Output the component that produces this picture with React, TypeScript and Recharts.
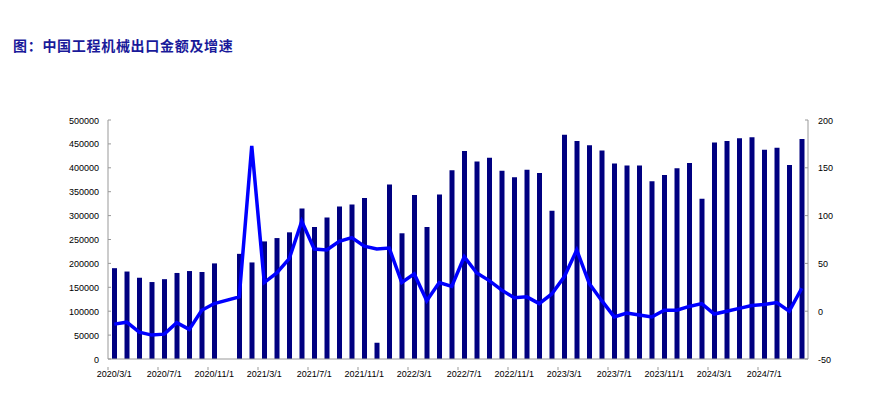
import React from "react"
import {
  ComposedChart,
  Bar,
  Line,
  XAxis,
  YAxis,
} from "recharts"

// 月份（2020/3 - 2024/10）
const months = [
  "2020/3/1", "2020/4/1", "2020/5/1", "2020/6/1", "2020/7/1", "2020/8/1", "2020/9/1", "2020/10/1", "2020/11/1", "2020/12/1",
  "2021/1/1", "2021/2/1", "2021/3/1", "2021/4/1", "2021/5/1", "2021/6/1", "2021/7/1", "2021/8/1", "2021/9/1", "2021/10/1",
  "2021/11/1", "2021/12/1", "2022/1/1", "2022/2/1", "2022/3/1", "2022/4/1", "2022/5/1", "2022/6/1", "2022/7/1", "2022/8/1",
  "2022/9/1", "2022/10/1", "2022/11/1", "2022/12/1", "2023/1/1", "2023/2/1", "2023/3/1", "2023/4/1", "2023/5/1", "2023/6/1",
  "2023/7/1", "2023/8/1", "2023/9/1", "2023/10/1", "2023/11/1", "2023/12/1", "2024/1/1", "2024/2/1", "2024/3/1", "2024/4/1",
  "2024/5/1", "2024/6/1", "2024/7/1", "2024/8/1", "2024/9/1", "2024/10/1",
]

// 出口金额（左轴）
const exportAmount = [
  190000, 183000, 170000, 161000, 167000, 180000, 184000, 182000, 200000, null,
  220000, 202000, 246000, 253000, 265000, 315000, 276000, 296000, 319000, 323000,
  337000, 34000, 365000, 263000, 343000, 276000, 344000, 395000, 435000, 413000,
  421000, 394000, 380000, 396000, 389000, 310000, 469000, 456000, 447000, 436000,
  409000, 405000, 405000, 372000, 385000, 399000, 410000, 335000, 453000, 456000,
  462000, 464000, 438000, 442000, 406000, 460000,
]

// 同比增速 %（右轴）
const growthRate = [
  -13.5, -11.5, -22, -25, -24, -12, -19, 1, 8, null,
  15, 173, 30, 40, 55, 94, 65, 64, 73, 77,
  68, 65, 66, 30, 39, 11, 30, 26, 57, 40,
  32, 22, 14, 15, 8, 18, 36, 64, 29, 11,
  -6, -2, -4, -6, 1, 1, 5, 8, -3, 0,
  3, 6, 7, 9, 0, 24,
]

const leftTicks = [0, 50000, 100000, 150000, 200000, 250000, 300000, 350000, 400000, 450000, 500000]
const rightTicks = [-50, 0, 50, 100, 150, 200]

const data = months.map((m, i) => ({
  month: m,
  amount: exportAmount[i],
  growth: growthRate[i],
}))

const W = 891
const H = 397
const LEFT = 108
const RIGHT_W = 83
const TOP = 120
const X_H = 38
const AXIS_COLOR = "#999"
const FONT = "'Liberation Sans', Arial, sans-serif"
const band = (W - LEFT - RIGHT_W) / months.length

function XTick(props: any) {
  const { x, y, payload } = props
  return (
    <g>
      <line x1={x - band / 2} x2={x - band / 2} y1={y} y2={y + 3} stroke={AXIS_COLOR} />
      <text x={x} y={y + 10} textAnchor="middle" fontSize={9} fontFamily={FONT} fill="#000">
        {payload.value}
      </text>
    </g>
  )
}

function LeftTick(props: any) {
  const { x, y, payload } = props
  const ax = x + 9
  return (
    <g>
      <line x1={ax} x2={ax + 3} y1={y} y2={y} stroke={AXIS_COLOR} />
      <text x={x} y={y + 3.5} textAnchor="end" fontSize={9} fontFamily={FONT} fill="#000">
        {payload.value}
      </text>
    </g>
  )
}

function RightTick(props: any) {
  const { x, y, payload } = props
  const ax = x - 10
  return (
    <g>
      <line x1={ax} x2={ax - 3} y1={y} y2={y} stroke={AXIS_COLOR} />
      <text x={x} y={y + 3.5} textAnchor="start" fontSize={9} fontFamily={FONT} fill="#000">
        {payload.value}
      </text>
    </g>
  )
}

export default function App() {
  return (
    <div style={{ position: "absolute", left: 0, top: 0, width: W, height: H, background: "#fff" }}>
      <div
        style={{
          position: "absolute",
          left: 13,
          top: 35,
          fontSize: 14,
          letterSpacing: 0.7,
          fontWeight: "bold",
          color: "#1a1a9a",
          fontFamily: "'Noto Sans CJK SC', sans-serif",
          whiteSpace: "nowrap",
        }}
      >
        图：中国工程机械出口金额及增速
      </div>
      <ComposedChart
        width={W}
        height={H}
        data={data}
        margin={{ top: TOP, right: 0, bottom: 0, left: 0 }}
        barCategoryGap={0}
      >
        <XAxis
          dataKey="month"
          interval={3}
          height={X_H}
          tickLine={false}
          tick={<XTick />}
          stroke={AXIS_COLOR}
        />
        <YAxis
          yAxisId="left"
          width={LEFT}
          domain={[0, 500000]}
          ticks={leftTicks}
          tickLine={false}
          tickSize={0}
          tickMargin={9}
          tick={<LeftTick />}
          stroke={AXIS_COLOR}
        />
        <YAxis
          yAxisId="right"
          orientation="right"
          width={RIGHT_W}
          domain={[-50, 200]}
          ticks={rightTicks}
          tickLine={false}
          tickSize={0}
          tickMargin={10}
          tick={<RightTick />}
          stroke={AXIS_COLOR}
        />
        <Bar
          yAxisId="left"
          dataKey="amount"
          fill="#000080"
          barSize={5}
          isAnimationActive={false}
        />
        <Line
          yAxisId="right"
          dataKey="growth"
          stroke="#0000ff"
          strokeWidth={3.5}
          dot={false}
          connectNulls
          type="linear"
          isAnimationActive={false}
        />
      </ComposedChart>
    </div>
  )
}
